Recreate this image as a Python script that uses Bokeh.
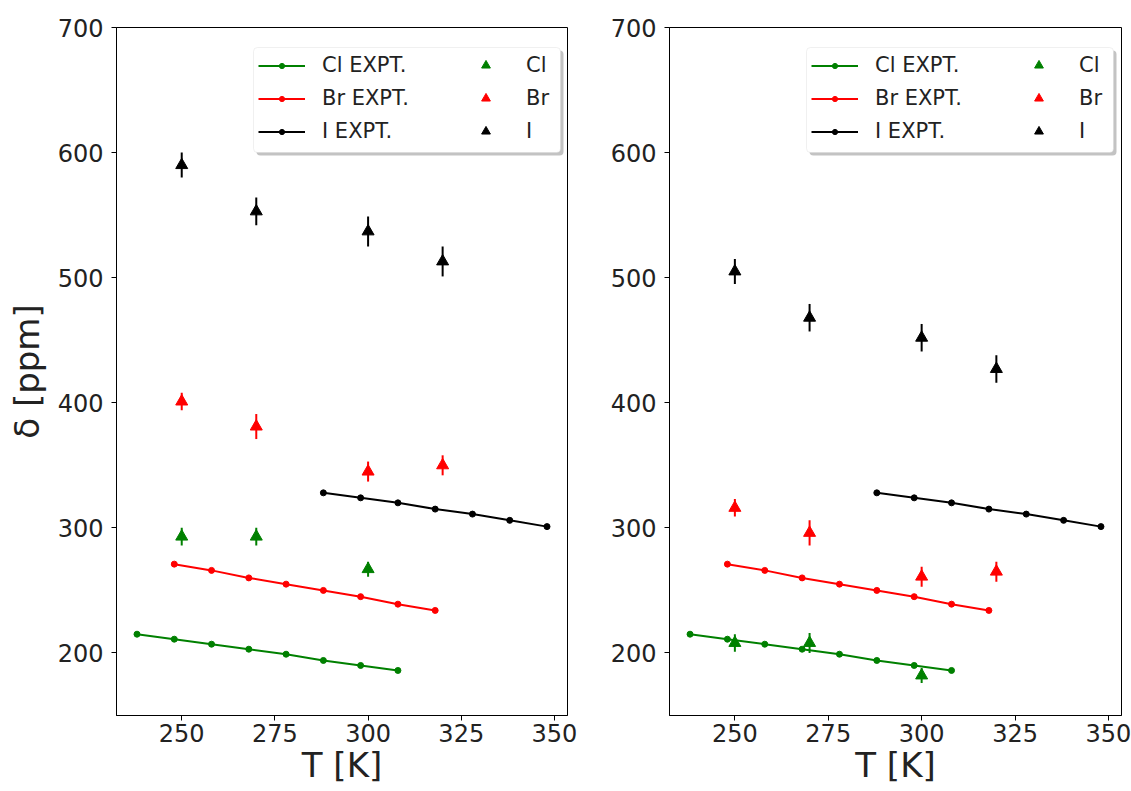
from bokeh.plotting import figure
from bokeh.layouts import row
from bokeh.models import Range1d, FixedTicker, Legend, LegendItem, BoxAnnotation
from bokeh.embed import file_html
from bokeh.resources import INLINE

# ---------------- data ----------------
T_cl_expt = [238, 248, 258, 268, 278, 288, 298, 308]
cl_expt = [215, 211, 207, 203, 199, 194, 190, 186]
T_br_expt = [248, 258, 268, 278, 288, 298, 308, 318]
br_expt = [271, 266, 260, 255, 250, 245, 239, 234]
T_i_expt = [288, 298, 308, 318, 328, 338, 348]
i_expt = [328, 324, 320, 315, 311, 306, 301]

T_cl_calc = [250, 270, 300]
T_calc = [250, 270, 300, 320]

cl_left = [293, 293, 267]
cl_left_err = [7, 7, 6]
br_left = [401, 381, 345, 350]
br_left_err = [7, 10, 8, 8]
i_left = [590, 553, 537, 513]
i_left_err = [10, 11, 12, 12]

cl_right = [208, 208, 182]
cl_right_err = [7, 8, 6]
br_right = [316, 296, 261, 265]
br_right_err = [7, 10, 8, 8]
i_right = [505, 468, 452, 427]
i_right_err = [10, 11, 11, 11]

x_ticks = [250, 275, 300, 325, 350]
y_ticks = [200, 300, 400, 500, 600, 700]

FONT = "DejaVu Sans"
GREEN = "green"
RED = "red"
BLACK = "black"


def make_panel(calc, show_ylabel, frame_w, b_left, b_right):
    p = figure(frame_width=frame_w, frame_height=688,
               x_range=Range1d(232.5, 353.5), y_range=Range1d(150, 700),
               output_backend="svg", toolbar_location=None,
               min_border_left=b_left, min_border_right=b_right,
               min_border_top=27, min_border_bottom=0,
               background_fill_color="white", border_fill_color="white")
    p.grid.visible = False
    p.outline_line_color = "black"
    p.outline_line_width = 1

    for ax in (p.xaxis[0], p.yaxis[0]):
        ax.major_label_text_font = FONT
        ax.major_label_text_font_size = "24px"
        ax.major_label_text_color = "#222222"
        ax.axis_label_text_font = FONT
        ax.axis_label_text_font_size = "34px"
        ax.axis_label_text_font_style = "normal"
        ax.axis_label_text_color = "#222222"
        ax.minor_tick_line_color = None
        ax.major_tick_in = 0
        ax.major_tick_out = 5
        ax.axis_line_color = "black"
        ax.major_tick_line_color = "black"
    p.xaxis[0].ticker = FixedTicker(ticks=x_ticks)
    p.yaxis[0].ticker = FixedTicker(ticks=y_ticks)
    p.xaxis[0].axis_label = "T [K]"
    p.xaxis[0].major_label_standoff = 3
    p.xaxis[0].axis_label_standoff = 0
    p.yaxis[0].major_label_standoff = 8
    if show_ylabel:
        p.yaxis[0].axis_label = "δ [ppm]"
        p.yaxis[0].axis_label_standoff = 8

    # experimental lines
    expt_items = []
    for T, v, c, lab in ((T_cl_expt, cl_expt, GREEN, "Cl EXPT."),
                         (T_br_expt, br_expt, RED, "Br EXPT."),
                         (T_i_expt, i_expt, BLACK, "I EXPT.")):
        lr = p.line(T, v, line_color=c, line_width=2)
        dr = p.scatter(T, v, marker="circle", size=6, fill_color=c, line_color=c)
        expt_items.append(LegendItem(label=lab, renderers=[lr, dr]))

    # calculated points with error bars
    calc_items = []
    for (T, v, e), c, lab in zip(calc, (GREEN, RED, BLACK), ("Cl", "Br", "I")):
        lo = [a - b for a, b in zip(v, e)]
        hi = [a + b for a, b in zip(v, e)]
        p.segment(x0=T, y0=lo, x1=T, y1=hi, line_color=c, line_width=2)
        tr = p.scatter(T, v, marker="triangle", size=12, fill_color=c, line_color=c)
        calc_items.append(LegendItem(label=lab, renderers=[tr]))

    # legend frame (shadow + box)
    shadow = BoxAnnotation(left=140, right=447, top=665, bottom=560,
                           left_units="screen", right_units="screen",
                           top_units="screen", bottom_units="screen",
                           fill_color="#888888", fill_alpha=0.5, line_alpha=0,
                           border_radius=4)
    box = BoxAnnotation(left=137, right=444, top=668, bottom=563,
                        left_units="screen", right_units="screen",
                        top_units="screen", bottom_units="screen",
                        fill_color="white", fill_alpha=1.0,
                        line_color="#cccccc", line_width=1, border_radius=4)
    p.add_layout(shadow)
    p.add_layout(box)

    common = dict(glyph_width=47, label_standoff=17,
                  label_text_font=FONT, label_text_font_size="21px",
                  label_text_color="#222222",
                  label_height=28, spacing=5, padding=0, margin=0,
                  border_line_alpha=0, background_fill_alpha=0)
    legA = Legend(items=expt_items, location=(142, 570), glyph_height=13, **common)
    legB = Legend(items=calc_items, location=(346, 570), glyph_height=22, **common)
    p.add_layout(legA, "center")
    p.add_layout(legB, "center")
    return p


left = make_panel([(T_cl_calc, cl_left, cl_left_err),
                   (T_calc, br_left, br_left_err),
                   (T_calc, i_left, i_left_err)], True, 451, 116, 40)
right = make_panel([(T_cl_calc, cl_right, cl_right_err),
                    (T_calc, br_right, br_right_err),
                    (T_calc, i_right, i_right_err)], False, 452, 59, 13)

layout = row(left, right, spacing=0)
open("out.html", "w").write(file_html(layout, INLINE))
